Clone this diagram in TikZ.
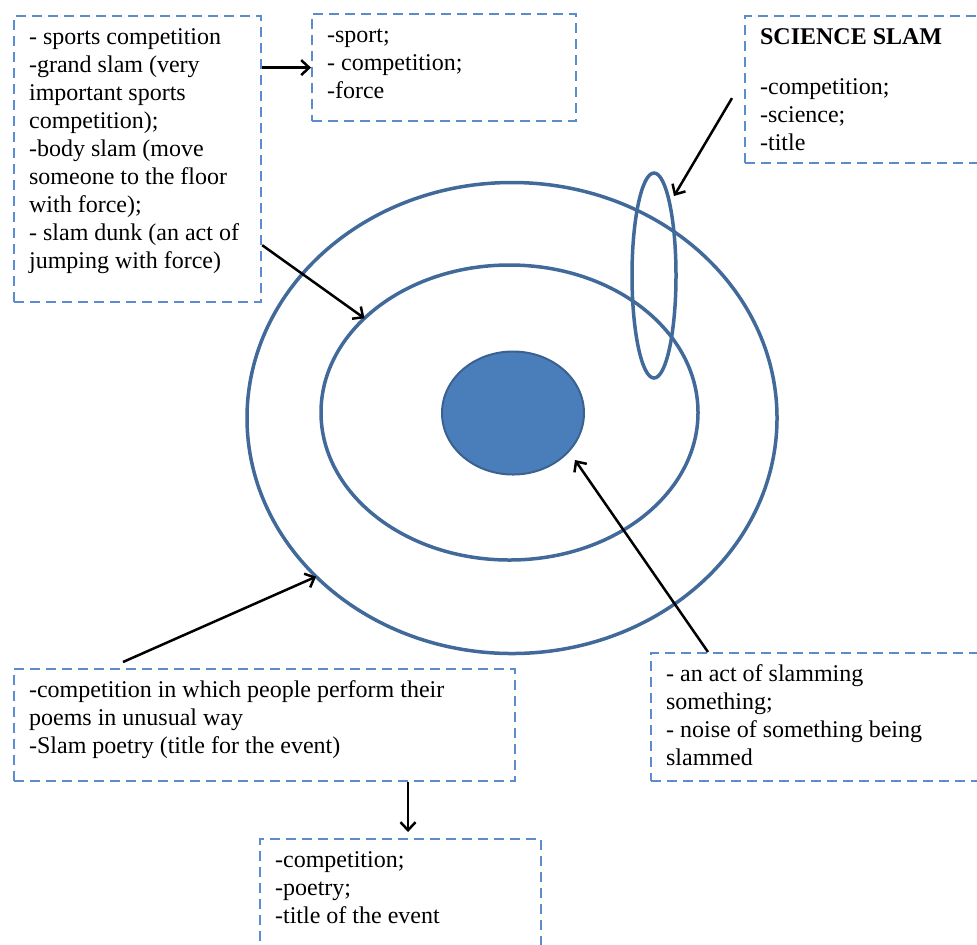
\documentclass[tikz,border=0pt]{standalone}
\usepackage{fontspec}
\setmainfont{Liberation Serif}
\usepackage{tikz}
\usetikzlibrary{arrows.meta,calc,positioning,shapes.geometric}
\definecolor{ringblau}{HTML}{41699A}
\definecolor{kernblau}{HTML}{4A7EBB}
\definecolor{kernrand}{HTML}{3A6190}
\definecolor{strichblau}{HTML}{5B8CCB}
\newcommand{\Kasten}[3]{\parbox[t][#2][t]{#1}{\strut #3}}

\begin{document}
\begin{tikzpicture}[x=0.5pt,y=-0.5pt,
  kasten/.style={draw=strichblau,line width=1.1pt,dash pattern=on 5pt off 3pt,
    inner xsep=7.5pt,inner ysep=4.5pt,anchor=north west,font=\fontsize{12pt}{14pt}\selectfont},
  ring/.style={ellipse,draw=ringblau,line width=1.75pt,inner sep=0pt,outer sep=0pt},
  pfeil/.style={black,line width=1.25pt,-{Straight Barb[length=4pt,width=7.5pt]}}]
%Koordinaten in Pixeln des Vorbilds (977x944), y zeigt nach unten
\useasboundingbox (0,0) rectangle (977,944);
\clip (0,0) rectangle (977,944);
%Die Ringe
\node[ring,minimum width=265pt,minimum height=235.5pt] (aussen) at (512,418) {};
\node[ring,minimum width=188.5pt,minimum height=147.5pt] (mitte) at (509.5,412.5) {};
\node[ring,fill=kernblau,draw=kernrand,line width=1pt,minimum width=71pt,minimum height=61.5pt] (kern) at (513,413) {};
\node[ring,minimum width=22pt,minimum height=102.5pt] (science) at (654,275.5) {};
%Die Kaesten
\node[kasten] (sport) at (13,15) {\Kasten{108.5pt}{134pt}{- sports competition\\ -grand slam (very\\ important sports\\ competition);\\ -body slam (move\\ someone to the floor\\ with force);\\ - slam dunk (an act of\\ jumping with force)}};
\node[kasten] (merkmale) at (311,13) {\Kasten{117pt}{44.5pt}{-sport;\\ - competition;\\ -force}};
\node[kasten] (scienceslam) at (744,15) {\Kasten{110pt}{64.5pt}{\textbf{SCIENCE SLAM}\\[11pt] -competition;\\ -science;\\ -title}};
\node[kasten] (poesie) at (13,668) {\Kasten{235.5pt}{47pt}{-competition in which people perform their\\ poems in unusual way\\ -Slam poetry (title for the event)}};
\node[kasten] (event) at (259,838) {\Kasten{125.5pt}{56pt}{-competition;\\ -poetry;\\ -title of the event}};
\node[kasten] (laerm) at (650,652) {\Kasten{155pt}{55pt}{- an act of slamming\\ something;\\ - noise of something being\\ slammed}};
%Freie Pfeilenden
\coordinate (scienceSpitze) at (674,196);
\coordinate (kernSpitze) at (575,460);
\coordinate (poesieLinie) at (408,0);
%Pfeile
\draw[pfeil] (sport.east |- merkmale.west) -- (merkmale.west);
\draw[pfeil] ([yshift=29pt]sport.south east) -- (mitte.147);
\draw[pfeil] ([shift={(-12,8.5)}]scienceslam.west) -- (scienceSpitze);
\draw[pfeil] ([shift={(110,-6)}]poesie.north west) -- (aussen.219);
\draw[pfeil,shorten >=3pt] (poesie.south -| poesieLinie) -- (event.north -| poesieLinie);
\draw[pfeil] ([xshift=29pt]laerm.north west) -- (kernSpitze);
\end{tikzpicture}
\end{document}
